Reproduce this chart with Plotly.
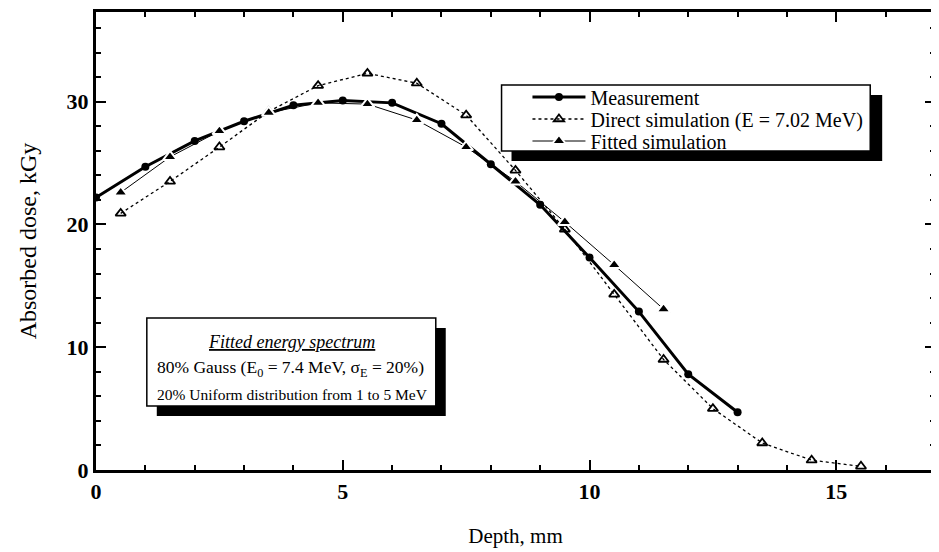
import plotly.graph_objects as go

# Data
meas_x = [0, 1, 2, 3, 4, 5, 6, 7, 8, 9, 10, 11, 12, 13]
meas_y = [22.2, 24.7, 26.8, 28.4, 29.7, 30.1, 29.9, 28.2, 24.9, 21.6, 17.3, 12.9, 7.8, 4.7]

direct_x = [0.5, 1.5, 2.5, 3.5, 4.5, 5.5, 6.5, 7.5, 8.5, 9.5, 10.5, 11.5, 12.5, 13.5, 14.5, 15.5]
direct_y = [20.9, 23.5, 26.3, 29.2, 31.3, 32.3, 31.5, 28.9, 24.4, 19.6, 14.3, 9.0, 5.0, 2.2, 0.8, 0.3]

fitted_x = [0.5, 1.5, 2.5, 3.5, 4.5, 5.5, 6.5, 7.5, 8.5, 9.5, 10.5, 11.5]
fitted_y = [22.6, 25.5, 27.6, 29.1, 29.9, 29.8, 28.5, 26.3, 23.5, 20.2, 16.7, 13.1]

FONT = "Liberation Serif, Times New Roman, serif"

OFF = 8  # page body margin
W, H = 931, 544
L, R, T, B = 88, 1, 4, 82
PW, PH = W - L - R, H - T - B


def px(X):  # screen x -> paper
    return (X - OFF - L) / PW


def py(Y):  # screen y -> paper
    return (H - B - (Y - OFF)) / PH


fig = go.Figure()

fig.add_trace(go.Scatter(
    x=meas_x, y=meas_y, name="Measurement", mode="lines+markers",
    line=dict(color="black", width=3),
    marker=dict(symbol="circle", size=8, color="black"),
    legend="legend",
))
fig.add_trace(go.Scatter(
    x=direct_x, y=direct_y, name="Direct simulation (E = 7.02 MeV)", mode="lines+markers",
    line=dict(color="black", width=1.3, dash="dot"),
    marker=dict(symbol="triangle-up-open", size=9, color="black", line=dict(width=1.8)),
    legend="legend2",
))
fig.add_trace(go.Scatter(
    x=fitted_x, y=fitted_y, name="Fitted simulation", mode="lines+markers",
    line=dict(color="black", width=1),
    marker=dict(symbol="triangle-up", size=12, color="black", line=dict(color="white", width=2)),
    legend="legend3",
))

shapes = []
# legend box with shadow
shapes.append(dict(type="rect", xref="paper", yref="paper",
                   x0=px(513), x1=px(885), y0=py(161), y1=py(95),
                   fillcolor="black", line=dict(width=0), layer="above"))
shapes.append(dict(type="rect", xref="paper", yref="paper",
                   x0=px(503), x1=px(873), y0=py(151), y1=py(85),
                   fillcolor="white", line=dict(color="black", width=1.5), layer="above"))
# annotation box with shadow
shapes.append(dict(type="rect", xref="paper", yref="paper",
                   x0=px(157), x1=px(447), y0=py(416), y1=py(328),
                   fillcolor="black", line=dict(width=0), layer="above"))
shapes.append(dict(type="rect", xref="paper", yref="paper",
                   x0=px(147), x1=px(437), y0=py(406), y1=py(318),
                   fillcolor="white", line=dict(color="black", width=1.5), layer="above"))

annotations = [
    dict(xref="paper", yref="paper", x=px(292), y=py(342), xanchor="center", yanchor="middle",
         text="<i><span style='text-decoration:underline'>Fitted energy spectrum</span></i>",
         showarrow=False, font=dict(family=FONT, size=18, color="black")),
    dict(xref="paper", yref="paper", x=px(155), y=py(368), xanchor="left", yanchor="middle",
         text="80% Gauss (E<sub>0</sub> = 7.4 MeV, σ<sub>E</sub> = 20%)",
         showarrow=False, font=dict(family=FONT, size=17.5, color="black")),
    dict(xref="paper", yref="paper", x=px(155), y=py(394), xanchor="left", yanchor="middle",
         text="20% Uniform distribution from 1 to 5 MeV",
         showarrow=False, font=dict(family=FONT, size=15.5, color="black")),
]

LEGFONT = dict(family=FONT, size=20, color="black")


def leg(ycenter):
    return dict(x=px(529), y=py(ycenter), xanchor="left", yanchor="middle",
                bgcolor="rgba(0,0,0,0)", borderwidth=0, font=LEGFONT,
                itemwidth=53)


fig.update_layout(
    width=W, height=H,
    margin=dict(l=L, r=R, t=T, b=B),
    plot_bgcolor="white", paper_bgcolor="white",
    font=dict(family=FONT, color="black"),
    showlegend=True,
    legend=leg(97),
    legend2=leg(119),
    legend3=leg(141),
    shapes=shapes,
    annotations=annotations,
)

fig.update_xaxes(
    range=[0, 17], tickmode="linear", tick0=0, dtick=5,
    showgrid=False, zeroline=False,
    showline=True, linecolor="black", linewidth=2.5, mirror="ticks",
    ticks="inside", ticklen=10, tickwidth=2, tickcolor="black",
    minor=dict(dtick=1, ticks="inside", ticklen=5, tickwidth=1.5, tickcolor="black", showgrid=False),
    tickfont=dict(family=FONT, size=22, color="black", weight="bold"),
    title=dict(text="Depth, mm", font=dict(family=FONT, size=21, color="black"), standoff=26),
)
fig.update_yaxes(
    range=[0, 37.3], tickmode="linear", tick0=0, dtick=10,
    showgrid=False, zeroline=False,
    showline=True, linecolor="black", linewidth=3, mirror="ticks",
    ticks="inside", ticklen=10, tickwidth=2, tickcolor="black",
    minor=dict(dtick=2, ticks="inside", ticklen=5, tickwidth=1.5, tickcolor="black", showgrid=False),
    tickfont=dict(family=FONT, size=22, color="black", weight="bold"),
    title=dict(text="Absorbed dose, kGy", font=dict(family=FONT, size=24, color="black"), standoff=24),
)

fig.write_html("out.html")
